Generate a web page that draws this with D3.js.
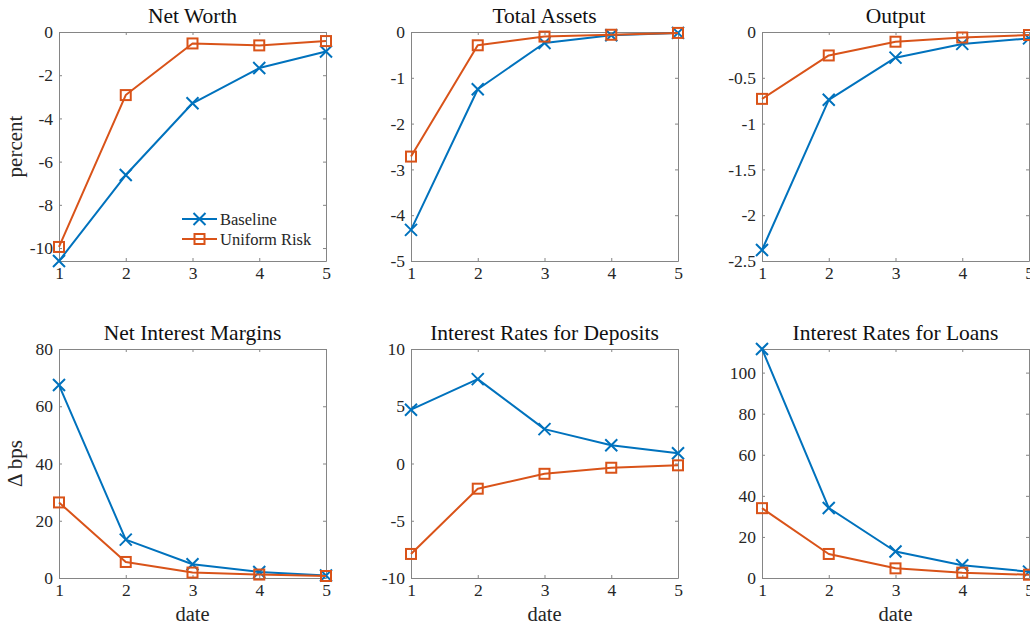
<!DOCTYPE html>
<html>
<head>
<meta charset="utf-8">
<script src="https://cdn.jsdelivr.net/npm/d3@7"></script>
<style>
  html, body { margin: 0; padding: 0; background: #fff; }
  svg, svg text { font-family: "Liberation Serif", "DejaVu Serif", "Noto Serif", serif !important; }
</style>
</head>
<body>
<svg id="chart" width="1030" height="629"></svg>
<script>
// Impulse responses over five dates for two model variants
const dates = [1, 2, 3, 4, 5];
const seriesNames = ["Baseline", "Uniform Risk"];

const netWorthBaseline = [-10.6, -6.62, -3.30, -1.67, -0.90];
const netWorthUniform  = [-9.95, -2.92, -0.53, -0.62, -0.42];

const totalAssetsBaseline = [-4.32, -1.25, -0.24, -0.07, -0.02];
const totalAssetsUniform  = [-2.72, -0.29, -0.10, -0.06, -0.02];

const outputBaseline = [-2.38, -0.74, -0.28, -0.13, -0.07];
const outputUniform  = [-0.73, -0.256, -0.106, -0.06, -0.033];

const marginsBaseline = [67.4, 13.4, 4.8, 2.1, 0.9];
const marginsUniform  = [26.4, 5.6, 1.9, 1.2, 0.7];

const depositsBaseline = [4.7, 7.37, 3.0, 1.6, 0.9];
const depositsUniform  = [-7.9, -2.2, -0.9, -0.37, -0.16];

const loansBaseline = [111.5, 34.1, 12.9, 6.2, 3.1];
const loansUniform  = [34.0, 11.7, 4.7, 2.6, 1.6];

const netWorthTicks    = [-10, -8, -6, -4, -2, 0];
const totalAssetsTicks = [-5, -4, -3, -2, -1, 0];
const outputTicks      = [-2.5, -2, -1.5, -1, -0.5, 0];
const marginsTicks     = [0, 20, 40, 60, 80];
const depositsTicks    = [-10, -5, 0, 5, 10];
const loansTicks       = [0, 20, 40, 60, 80, 100];

const colors = ["#0072BD", "#D95319"];
const serif = "'Liberation Serif', 'DejaVu Serif', serif";

const panels = [
  { title: "Net Worth", series: [netWorthBaseline, netWorthUniform], domain: [-10.6, 0], ticks: netWorthTicks,
    x0: 59, y0: 32, ylabel: "percent", legend: true },
  { title: "Total Assets", series: [totalAssetsBaseline, totalAssetsUniform], domain: [-5, 0], ticks: totalAssetsTicks,
    x0: 411, y0: 32 },
  { title: "Output", series: [outputBaseline, outputUniform], domain: [-2.5, 0], ticks: outputTicks,
    x0: 762, y0: 32 },
  { title: "Net Interest Margins", series: [marginsBaseline, marginsUniform], domain: [0, 80], ticks: marginsTicks,
    x0: 59, y0: 349, ylabel: "\u0394 bps", xlabel: "date" },
  { title: "Interest Rates for Deposits", series: [depositsBaseline, depositsUniform], domain: [-10, 10], ticks: depositsTicks,
    x0: 411, y0: 349, xlabel: "date" },
  { title: "Interest Rates for Loans", series: [loansBaseline, loansUniform], domain: [0, 111.5], ticks: loansTicks,
    x0: 762, y0: 349, xlabel: "date" }
];

const W = 267, H = 229;
const axisColor = "#858585";
const textColor = "#262626";
const tickLen = 3;

const svg = d3.select("#chart");

function drawMarker(g, kind, color) {
  if (kind === 0) {
    const s = 6;
    g.append("path")
      .attr("d", `M${-s},${-s}L${s},${s}M${-s},${s}L${s},${-s}`)
      .attr("stroke", color).attr("stroke-width", 2).attr("fill", "none");
  } else {
    const s = 5;
    g.append("rect")
      .attr("x", -s).attr("y", -s).attr("width", 2 * s).attr("height", 2 * s)
      .attr("stroke", color).attr("stroke-width", 2).attr("fill", "none");
  }
}

panels.forEach(p => {
  const g = svg.append("g").attr("transform", `translate(${p.x0},${p.y0})`);
  const x = d3.scaleLinear().domain([1, 5]).range([0, W]);
  const y = d3.scaleLinear().domain(p.domain).range([H, 0]);
  const fmt = d => String(d);

  // inward ticks on all four sides, labels on left and bottom only
  const axB = g.append("g").attr("transform", `translate(0,${H})`)
    .call(d3.axisBottom(x).tickValues(dates).tickSizeInner(-tickLen).tickSizeOuter(0).tickPadding(6).tickFormat(fmt));
  const axL = g.append("g")
    .call(d3.axisLeft(y).tickValues(p.ticks).tickSizeInner(-tickLen).tickSizeOuter(0).tickPadding(6).tickFormat(fmt));
  const axT = g.append("g")
    .call(d3.axisTop(x).tickValues(dates).tickSizeInner(-tickLen).tickSizeOuter(0).tickFormat(""));
  const axR = g.append("g").attr("transform", `translate(${W},0)`)
    .call(d3.axisRight(y).tickValues(p.ticks).tickSizeInner(-tickLen).tickSizeOuter(0).tickFormat(""));

  [axB, axL, axT, axR].forEach(a => {
    a.attr("font-family", serif);
    a.selectAll("path.domain").attr("stroke", axisColor).attr("stroke-width", 1);
    a.selectAll(".tick line").attr("stroke", axisColor).attr("stroke-width", 1);
    a.selectAll(".tick text").attr("fill", textColor)
      .attr("font-family", serif).attr("font-size", 17.5);
  });

  // title
  g.append("text")
    .attr("x", W / 2).attr("y", -9)
    .attr("text-anchor", "middle")
    .attr("fill", "#111")
    .attr("font-family", serif).attr("font-size", 21.5)
    .text(p.title);

  if (p.ylabel) {
    g.append("text")
      .attr("transform", `translate(${-37},${H / 2}) rotate(-90)`)
      .attr("text-anchor", "middle")
      .attr("fill", textColor)
      .attr("font-family", serif).attr("font-size", 21)
      .text(p.ylabel);
  }
  if (p.xlabel) {
    g.append("text")
      .attr("x", W / 2).attr("y", H + 43)
      .attr("text-anchor", "middle")
      .attr("fill", textColor)
      .attr("font-family", serif).attr("font-size", 20.5)
      .text(p.xlabel);
  }

  const line = d3.line().x((d, i) => x(dates[i])).y(d => y(d));
  p.series.forEach((vals, si) => {
    const sg = g.append("g");
    sg.append("path")
      .attr("d", line(vals))
      .attr("fill", "none")
      .attr("stroke", colors[si])
      .attr("stroke-width", 2)
      .attr("stroke-linejoin", "round");
    vals.forEach((v, i) => {
      const m = sg.append("g").attr("transform", `translate(${x(dates[i])},${y(v)})`);
      drawMarker(m, si, colors[si]);
    });
  });

  if (p.legend) {
    const lg = g.append("g").attr("transform", `translate(${123},${187})`);
    seriesNames.forEach((name, si) => {
      const row = lg.append("g").attr("transform", `translate(0,${si * 20})`);
      row.append("line").attr("x1", 0).attr("x2", 35).attr("y1", 0).attr("y2", 0)
        .attr("stroke", colors[si]).attr("stroke-width", 2);
      const m = row.append("g").attr("transform", "translate(17.5,0)");
      drawMarker(m, si, colors[si]);
      row.append("text").attr("x", 38).attr("y", 5.5)
        .attr("fill", textColor)
        .attr("font-family", serif).attr("font-size", 16.5)
        .text(name);
    });
  }
});
</script>
</body>
</html>
